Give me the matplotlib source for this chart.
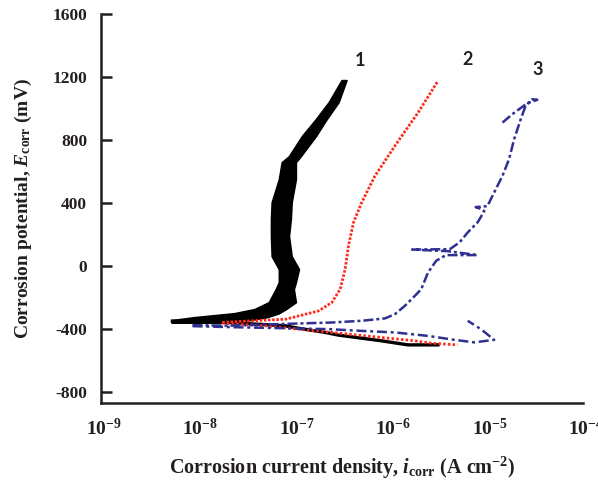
import matplotlib
matplotlib.use("Agg")
import matplotlib.pyplot as plt
import matplotlib.transforms as mtransforms

# ---------------- data ----------------
# Curve 1 (black): noisy anodic band (left / right envelope) and cathodic branch
c1_band_E = [-360, -344, -325, -300, -274, -230, -147, -103, -20, 62, 190, 297,
             405, 551, 659, 697, 824, 932, 1040, 1180]
c1_band_ilow = [5.4e-9, 5.4e-9, 9.3e-9, 2.4e-8, 3.9e-8, 5.5e-8, 6.5e-8, 7.0e-8,
                7.0e-8, 5.9e-8, 5.8e-8, 5.8e-8, 5.9e-8, 7.0e-8, 7.5e-8, 8.9e-8,
                1.21e-7, 1.69e-7, 2.30e-7, 3.13e-7]
c1_band_ihigh = [1.5e-8, 3.44e-8, 5.27e-8, 7.0e-8, 8.28e-8, 1.05e-7, 1.0e-7,
                 1.05e-7, 1.13e-7, 9.5e-8, 8.9e-8, 9.3e-8, 9.5e-8, 1.05e-7,
                 1.05e-7, 1.18e-7, 1.69e-7, 2.19e-7, 2.91e-7, 3.52e-7]
c1_cath_i = [5.5e-9, 1.98e-8, 8.2e-8, 1.13e-7, 2.12e-7, 2.91e-7, 8.07e-7, 1.53e-6, 3.13e-6]
c1_cath_E = [-350, -358, -380, -396, -422, -439, -475, -501, -501]

# Curve 2 (red)
c2_anod_i = [1.81e-8, 3.69e-8, 8.2e-8, 1.13e-7, 1.81e-7, 2.48e-7, 3.03e-7, 3.41e-7,
             3.69e-7, 4.16e-7, 5.06e-7, 6.95e-7, 1.12e-6, 1.95e-6, 3.13e-6]
c2_anod_E = [-358, -348, -338, -317, -285, -232, -147, -20, 128, 276, 403, 572,
             763, 975, 1175]
c2_cath_i = [1.81e-8, 5.1e-8, 2.48e-7, 8.1e-7, 1.80e-6, 2.65e-6, 5.0e-6]
c2_cath_E = [-363, -380, -422, -454, -475, -490, -501]

# Curve 3 (blue)
c3_anod_i = [8.9e-9, 2.14e-8, 1.13e-7, 2.47e-7, 5.02e-7, 8.8e-7, 1.12e-6, 1.42e-6,
             1.80e-6, 2.10e-6, 2.47e-6, 3.0e-6, 3.78e-6, 8.07e-6, 3.96e-6, 1.69e-6,
             4.16e-6, 5.24e-6, 6.37e-6, 8.07e-6, 9.46e-6, 8.88e-6, 7.7e-6, 1.02e-5,
             1.15e-5, 1.46e-5, 1.71e-5, 1.93e-5, 2.26e-5, 2.54e-5, 2.98e-5, 3.36e-5,
             2.65e-5, 1.85e-5, 1.40e-5]
c3_anod_E = [-376, -379, -365, -359, -348, -333, -306, -253, -190, -147, -41, 33,
             69, 69, 94, 104, 107, 150, 213, 277, 348, 361, 374, 380, 445, 572,
             678, 805, 932, 1017, 1059, 1055, 1034, 964, 901]
c3_cath_i = [8.9e-9, 2.14e-8, 2.30e-7, 5.02e-7, 1.12e-6, 2.47e-6, 4.64e-6, 7.46e-6,
             1.20e-5, 8.73e-6, 6.37e-6]
c3_cath_E = [-382, -388, -401, -412, -422, -444, -469, -485, -469, -401, -348]

curve_labels = ["1", "2", "3"]
curve_label_i = [4.9e-7, 6.4e-6, 3.36e-5]
curve_label_E = [1302, 1313, 1245]

y_ticks = [-800, -400, 0, 400, 800, 1200, 1600]
x_ticks = [1e-9, 1e-8, 1e-7, 1e-6, 1e-5, 1e-4]
x_tick_labels = [r"$\mathbf{10^{-9}}$", r"$\mathbf{10^{-8}}$", r"$\mathbf{10^{-7}}$",
                 r"$\mathbf{10^{-6}}$", r"$\mathbf{10^{-5}}$", r"$\mathbf{10^{-4}}$"]

# ---------------- style ----------------
plt.rcParams["font.family"] = ["Liberation Serif", "DejaVu Serif"]
plt.rcParams["font.weight"] = "bold"
plt.rcParams["mathtext.fontset"] = "custom"
plt.rcParams["mathtext.rm"] = "Liberation Serif:bold"
plt.rcParams["mathtext.bf"] = "Liberation Serif:bold"
plt.rcParams["mathtext.it"] = "Liberation Serif:italic:bold"
plt.rcParams["mathtext.bfit"] = "Liberation Serif:italic:bold"
plt.rcParams["axes.unicode_minus"] = False

txt = "#231f20"
black = "#000000"
red = "#ff2a1a"
blue = "#2e3192"

fig = plt.figure(figsize=(5.98, 4.83), dpi=100)
ax = fig.add_axes([101 / 598, 80 / 483, 482 / 598, 389 / 483])

# curve 1
ax.fill_betweenx(c1_band_E, c1_band_ilow, c1_band_ihigh, color=black, lw=1.2)
ax.plot(c1_cath_i, c1_cath_E, color=black, lw=2.4, solid_joinstyle="miter")

# curve 2
ax.plot(c2_anod_i, c2_anod_E, color=red, lw=2.0, dashes=(0.9, 0.6))
ax.plot(c2_cath_i, c2_cath_E, color=red, lw=2.0, dashes=(0.9, 0.8))

# curve 3
ax.plot(c3_anod_i, c3_anod_E, color=blue, lw=1.8, dashes=(4, 1.2, 1.2, 1.2))
ax.plot(c3_cath_i, c3_cath_E, color=blue, lw=1.8, dashes=(4, 1.5, 1.2, 1.5))

for lab, xi, yi in zip(curve_labels, curve_label_i, curve_label_E):
    ax.text(xi, yi, lab, fontsize=13, fontweight="bold", family="Lato",
            color="#231f20", ha="center", va="center")

ax.set_xscale("log")
ax.set_xlim(1e-9, 1e-4)
ax.set_ylim(-870, 1600)
ax.set_yticks(y_ticks)
ax.set_yticklabels([str(v) for v in y_ticks])
ax.set_xticks(x_ticks)
ax.set_xticklabels(x_tick_labels)
ax.xaxis.set_minor_locator(matplotlib.ticker.NullLocator())

for s in ["top", "right"]:
    ax.spines[s].set_visible(False)
for s in ["left", "bottom"]:
    ax.spines[s].set_linewidth(1.8)
    ax.spines[s].set_color(txt)

ax.tick_params(axis="y", direction="in", length=8, width=1.8, color=txt,
               labelsize=12.5, pad=10, labelcolor=txt)
ax.tick_params(axis="x", length=0, labelsize=14, pad=11, labelcolor=txt)

offset = mtransforms.ScaledTranslation(3 / 100, 0, fig.dpi_scale_trans)
for lbl in ax.get_xticklabels():
    lbl.set_transform(lbl.get_transform() + offset)

ax.set_xlabel(r"Corrosion current density, $\mathbfit{i}_{\mathbf{corr}}$ (A cm$^{\mathbf{-2}}$)",
              fontsize=14.5, fontweight="bold", color=txt, labelpad=11)
ax.set_ylabel(r"Corrosion potential, $\mathbfit{E}_{\mathbf{corr}}$ (mV)",
              fontsize=14, fontweight="bold", color=txt, labelpad=13)

fig.savefig("out.png", dpi=100)
